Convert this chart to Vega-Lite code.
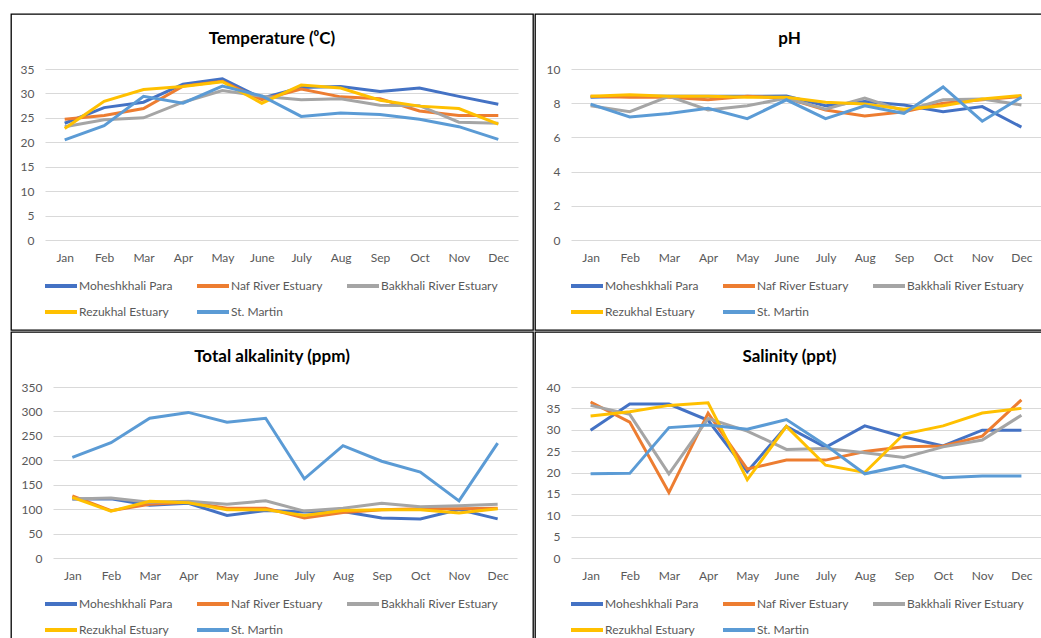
{
  "$schema": "https://vega.github.io/schema/vega-lite/v6.json",
  "padding": {"top": 13, "left": 10, "right": 0, "bottom": 0},
  "background": "#ffffff",
  "spacing": 0,
  "config": {
    "font": "Lato",
    "view": {"stroke": "#000000", "strokeWidth": 1.3},
    "axis": {"labelFont": "Lato", "labelFontSize": 12, "labelColor": "#595959", "domain": false, "ticks": false, "tickSize": 0, "gridColor": "#D9D9D9", "gridWidth": 1},
    "title": {"font": "Lato", "fontSize": 17, "fontWeight": "bold", "color": "#000000", "anchor": "middle"},
    "legend": {"orient": "none", "direction": "horizontal", "columns": 3, "symbolType": "stroke", "symbolSize": 1024, "symbolStrokeWidth": 4, "labelFont": "Lato", "labelFontSize": 12, "labelColor": "#595959", "labelOffset": 0, "columnPadding": 16, "rowPadding": -10, "gridAlign": "each"}
  },
  "resolve": {"scale": {"color": "independent", "x": "independent", "y": "independent"}, "legend": {"color": "independent"}},
  "data": {"values": [
    {"p":"T","s":"Moheshkhali Para","m":"Jan","v":23.9},{"p":"T","s":"Moheshkhali Para","m":"Feb","v":27.1},{"p":"T","s":"Moheshkhali Para","m":"Mar","v":28.2},{"p":"T","s":"Moheshkhali Para","m":"Apr","v":31.9},{"p":"T","s":"Moheshkhali Para","m":"May","v":33.0},{"p":"T","s":"Moheshkhali Para","m":"June","v":29.0},{"p":"T","s":"Moheshkhali Para","m":"July","v":31.2},{"p":"T","s":"Moheshkhali Para","m":"Aug","v":31.4},{"p":"T","s":"Moheshkhali Para","m":"Sep","v":30.4},{"p":"T","s":"Moheshkhali Para","m":"Oct","v":31.1},{"p":"T","s":"Moheshkhali Para","m":"Nov","v":29.4},{"p":"T","s":"Moheshkhali Para","m":"Dec","v":27.8},
    {"p":"T","s":"Naf River Estuary","m":"Jan","v":24.7},{"p":"T","s":"Naf River Estuary","m":"Feb","v":25.5},{"p":"T","s":"Naf River Estuary","m":"Mar","v":26.9},{"p":"T","s":"Naf River Estuary","m":"Apr","v":31.5},{"p":"T","s":"Naf River Estuary","m":"May","v":32.5},{"p":"T","s":"Naf River Estuary","m":"June","v":28.7},{"p":"T","s":"Naf River Estuary","m":"July","v":30.9},{"p":"T","s":"Naf River Estuary","m":"Aug","v":29.3},{"p":"T","s":"Naf River Estuary","m":"Sep","v":28.9},{"p":"T","s":"Naf River Estuary","m":"Oct","v":26.4},{"p":"T","s":"Naf River Estuary","m":"Nov","v":25.5},{"p":"T","s":"Naf River Estuary","m":"Dec","v":25.5},
    {"p":"T","s":"Bakkhali River Estuary","m":"Jan","v":23.2},{"p":"T","s":"Bakkhali River Estuary","m":"Feb","v":24.6},{"p":"T","s":"Bakkhali River Estuary","m":"Mar","v":25.0},{"p":"T","s":"Bakkhali River Estuary","m":"Apr","v":28.2},{"p":"T","s":"Bakkhali River Estuary","m":"May","v":30.6},{"p":"T","s":"Bakkhali River Estuary","m":"June","v":29.4},{"p":"T","s":"Bakkhali River Estuary","m":"July","v":28.7},{"p":"T","s":"Bakkhali River Estuary","m":"Aug","v":28.9},{"p":"T","s":"Bakkhali River Estuary","m":"Sep","v":27.6},{"p":"T","s":"Bakkhali River Estuary","m":"Oct","v":27.5},{"p":"T","s":"Bakkhali River Estuary","m":"Nov","v":24.1},{"p":"T","s":"Bakkhali River Estuary","m":"Dec","v":23.9},
    {"p":"T","s":"Rezukhal Estuary","m":"Jan","v":22.8},{"p":"T","s":"Rezukhal Estuary","m":"Feb","v":28.4},{"p":"T","s":"Rezukhal Estuary","m":"Mar","v":30.8},{"p":"T","s":"Rezukhal Estuary","m":"Apr","v":31.4},{"p":"T","s":"Rezukhal Estuary","m":"May","v":32.4},{"p":"T","s":"Rezukhal Estuary","m":"June","v":28.0},{"p":"T","s":"Rezukhal Estuary","m":"July","v":31.7},{"p":"T","s":"Rezukhal Estuary","m":"Aug","v":31.1},{"p":"T","s":"Rezukhal Estuary","m":"Sep","v":28.6},{"p":"T","s":"Rezukhal Estuary","m":"Oct","v":27.4},{"p":"T","s":"Rezukhal Estuary","m":"Nov","v":26.9},{"p":"T","s":"Rezukhal Estuary","m":"Dec","v":23.7},
    {"p":"T","s":"St. Martin","m":"Jan","v":20.5},{"p":"T","s":"St. Martin","m":"Feb","v":23.4},{"p":"T","s":"St. Martin","m":"Mar","v":29.4},{"p":"T","s":"St. Martin","m":"Apr","v":28.0},{"p":"T","s":"St. Martin","m":"May","v":31.5},{"p":"T","s":"St. Martin","m":"June","v":29.5},{"p":"T","s":"St. Martin","m":"July","v":25.3},{"p":"T","s":"St. Martin","m":"Aug","v":26.0},{"p":"T","s":"St. Martin","m":"Sep","v":25.7},{"p":"T","s":"St. Martin","m":"Oct","v":24.7},{"p":"T","s":"St. Martin","m":"Nov","v":23.2},{"p":"T","s":"St. Martin","m":"Dec","v":20.6},

    {"p":"pH","s":"Moheshkhali Para","m":"Jan","v":8.35},{"p":"pH","s":"Moheshkhali Para","m":"Feb","v":8.4},{"p":"pH","s":"Moheshkhali Para","m":"Mar","v":8.4},{"p":"pH","s":"Moheshkhali Para","m":"Apr","v":8.4},{"p":"pH","s":"Moheshkhali Para","m":"May","v":8.4},{"p":"pH","s":"Moheshkhali Para","m":"June","v":8.42},{"p":"pH","s":"Moheshkhali Para","m":"July","v":7.85},{"p":"pH","s":"Moheshkhali Para","m":"Aug","v":8.1},{"p":"pH","s":"Moheshkhali Para","m":"Sep","v":7.9},{"p":"pH","s":"Moheshkhali Para","m":"Oct","v":7.5},{"p":"pH","s":"Moheshkhali Para","m":"Nov","v":7.8},{"p":"pH","s":"Moheshkhali Para","m":"Dec","v":6.6},
    {"p":"pH","s":"Naf River Estuary","m":"Jan","v":8.4},{"p":"pH","s":"Naf River Estuary","m":"Feb","v":8.35},{"p":"pH","s":"Naf River Estuary","m":"Mar","v":8.35},{"p":"pH","s":"Naf River Estuary","m":"Apr","v":8.2},{"p":"pH","s":"Naf River Estuary","m":"May","v":8.4},{"p":"pH","s":"Naf River Estuary","m":"June","v":8.3},{"p":"pH","s":"Naf River Estuary","m":"July","v":7.6},{"p":"pH","s":"Naf River Estuary","m":"Aug","v":7.25},{"p":"pH","s":"Naf River Estuary","m":"Sep","v":7.5},{"p":"pH","s":"Naf River Estuary","m":"Oct","v":8.0},{"p":"pH","s":"Naf River Estuary","m":"Nov","v":8.2},{"p":"pH","s":"Naf River Estuary","m":"Dec","v":8.4},
    {"p":"pH","s":"Bakkhali River Estuary","m":"Jan","v":7.85},{"p":"pH","s":"Bakkhali River Estuary","m":"Feb","v":7.5},{"p":"pH","s":"Bakkhali River Estuary","m":"Mar","v":8.4},{"p":"pH","s":"Bakkhali River Estuary","m":"Apr","v":7.6},{"p":"pH","s":"Bakkhali River Estuary","m":"May","v":7.85},{"p":"pH","s":"Bakkhali River Estuary","m":"June","v":8.3},{"p":"pH","s":"Bakkhali River Estuary","m":"July","v":7.65},{"p":"pH","s":"Bakkhali River Estuary","m":"Aug","v":8.3},{"p":"pH","s":"Bakkhali River Estuary","m":"Sep","v":7.55},{"p":"pH","s":"Bakkhali River Estuary","m":"Oct","v":8.2},{"p":"pH","s":"Bakkhali River Estuary","m":"Nov","v":8.25},{"p":"pH","s":"Bakkhali River Estuary","m":"Dec","v":7.9},
    {"p":"pH","s":"Rezukhal Estuary","m":"Jan","v":8.4},{"p":"pH","s":"Rezukhal Estuary","m":"Feb","v":8.5},{"p":"pH","s":"Rezukhal Estuary","m":"Mar","v":8.4},{"p":"pH","s":"Rezukhal Estuary","m":"Apr","v":8.4},{"p":"pH","s":"Rezukhal Estuary","m":"May","v":8.35},{"p":"pH","s":"Rezukhal Estuary","m":"June","v":8.35},{"p":"pH","s":"Rezukhal Estuary","m":"July","v":8.05},{"p":"pH","s":"Rezukhal Estuary","m":"Aug","v":7.95},{"p":"pH","s":"Rezukhal Estuary","m":"Sep","v":7.65},{"p":"pH","s":"Rezukhal Estuary","m":"Oct","v":7.85},{"p":"pH","s":"Rezukhal Estuary","m":"Nov","v":8.25},{"p":"pH","s":"Rezukhal Estuary","m":"Dec","v":8.45},
    {"p":"pH","s":"St. Martin","m":"Jan","v":7.95},{"p":"pH","s":"St. Martin","m":"Feb","v":7.2},{"p":"pH","s":"St. Martin","m":"Mar","v":7.4},{"p":"pH","s":"St. Martin","m":"Apr","v":7.7},{"p":"pH","s":"St. Martin","m":"May","v":7.1},{"p":"pH","s":"St. Martin","m":"June","v":8.2},{"p":"pH","s":"St. Martin","m":"July","v":7.1},{"p":"pH","s":"St. Martin","m":"Aug","v":7.85},{"p":"pH","s":"St. Martin","m":"Sep","v":7.4},{"p":"pH","s":"St. Martin","m":"Oct","v":8.95},{"p":"pH","s":"St. Martin","m":"Nov","v":6.95},{"p":"pH","s":"St. Martin","m":"Dec","v":8.35},

    {"p":"TA","s":"Moheshkhali Para","m":"Jan","v":121},{"p":"TA","s":"Moheshkhali Para","m":"Feb","v":121},{"p":"TA","s":"Moheshkhali Para","m":"Mar","v":108},{"p":"TA","s":"Moheshkhali Para","m":"Apr","v":112},{"p":"TA","s":"Moheshkhali Para","m":"May","v":87},{"p":"TA","s":"Moheshkhali Para","m":"June","v":97},{"p":"TA","s":"Moheshkhali Para","m":"July","v":94},{"p":"TA","s":"Moheshkhali Para","m":"Aug","v":95},{"p":"TA","s":"Moheshkhali Para","m":"Sep","v":82},{"p":"TA","s":"Moheshkhali Para","m":"Oct","v":80},{"p":"TA","s":"Moheshkhali Para","m":"Nov","v":99},{"p":"TA","s":"Moheshkhali Para","m":"Dec","v":80},
    {"p":"TA","s":"Naf River Estuary","m":"Jan","v":127},{"p":"TA","s":"Naf River Estuary","m":"Feb","v":97},{"p":"TA","s":"Naf River Estuary","m":"Mar","v":110},{"p":"TA","s":"Naf River Estuary","m":"Apr","v":114},{"p":"TA","s":"Naf River Estuary","m":"May","v":102},{"p":"TA","s":"Naf River Estuary","m":"June","v":102},{"p":"TA","s":"Naf River Estuary","m":"July","v":82},{"p":"TA","s":"Naf River Estuary","m":"Aug","v":93},{"p":"TA","s":"Naf River Estuary","m":"Sep","v":99},{"p":"TA","s":"Naf River Estuary","m":"Oct","v":101},{"p":"TA","s":"Naf River Estuary","m":"Nov","v":101},{"p":"TA","s":"Naf River Estuary","m":"Dec","v":102},
    {"p":"TA","s":"Bakkhali River Estuary","m":"Jan","v":121},{"p":"TA","s":"Bakkhali River Estuary","m":"Feb","v":123},{"p":"TA","s":"Bakkhali River Estuary","m":"Mar","v":114},{"p":"TA","s":"Bakkhali River Estuary","m":"Apr","v":116},{"p":"TA","s":"Bakkhali River Estuary","m":"May","v":110},{"p":"TA","s":"Bakkhali River Estuary","m":"June","v":117},{"p":"TA","s":"Bakkhali River Estuary","m":"July","v":96},{"p":"TA","s":"Bakkhali River Estuary","m":"Aug","v":102},{"p":"TA","s":"Bakkhali River Estuary","m":"Sep","v":112},{"p":"TA","s":"Bakkhali River Estuary","m":"Oct","v":105},{"p":"TA","s":"Bakkhali River Estuary","m":"Nov","v":107},{"p":"TA","s":"Bakkhali River Estuary","m":"Dec","v":110},
    {"p":"TA","s":"Rezukhal Estuary","m":"Jan","v":124},{"p":"TA","s":"Rezukhal Estuary","m":"Feb","v":96},{"p":"TA","s":"Rezukhal Estuary","m":"Mar","v":116},{"p":"TA","s":"Rezukhal Estuary","m":"Apr","v":113},{"p":"TA","s":"Rezukhal Estuary","m":"May","v":99},{"p":"TA","s":"Rezukhal Estuary","m":"June","v":99},{"p":"TA","s":"Rezukhal Estuary","m":"July","v":87},{"p":"TA","s":"Rezukhal Estuary","m":"Aug","v":97},{"p":"TA","s":"Rezukhal Estuary","m":"Sep","v":99},{"p":"TA","s":"Rezukhal Estuary","m":"Oct","v":99},{"p":"TA","s":"Rezukhal Estuary","m":"Nov","v":92},{"p":"TA","s":"Rezukhal Estuary","m":"Dec","v":101},
    {"p":"TA","s":"St. Martin","m":"Jan","v":206},{"p":"TA","s":"St. Martin","m":"Feb","v":236},{"p":"TA","s":"St. Martin","m":"Mar","v":286},{"p":"TA","s":"St. Martin","m":"Apr","v":298},{"p":"TA","s":"St. Martin","m":"May","v":278},{"p":"TA","s":"St. Martin","m":"June","v":286},{"p":"TA","s":"St. Martin","m":"July","v":162},{"p":"TA","s":"St. Martin","m":"Aug","v":230},{"p":"TA","s":"St. Martin","m":"Sep","v":198},{"p":"TA","s":"St. Martin","m":"Oct","v":176},{"p":"TA","s":"St. Martin","m":"Nov","v":117},{"p":"TA","s":"St. Martin","m":"Dec","v":235},

    {"p":"S","s":"Moheshkhali Para","m":"Jan","v":29.9},{"p":"S","s":"Moheshkhali Para","m":"Feb","v":36.0},{"p":"S","s":"Moheshkhali Para","m":"Mar","v":36.0},{"p":"S","s":"Moheshkhali Para","m":"Apr","v":32.2},{"p":"S","s":"Moheshkhali Para","m":"May","v":20.2},{"p":"S","s":"Moheshkhali Para","m":"June","v":30.8},{"p":"S","s":"Moheshkhali Para","m":"July","v":25.9},{"p":"S","s":"Moheshkhali Para","m":"Aug","v":30.9},{"p":"S","s":"Moheshkhali Para","m":"Sep","v":28.3},{"p":"S","s":"Moheshkhali Para","m":"Oct","v":26.2},{"p":"S","s":"Moheshkhali Para","m":"Nov","v":29.9},{"p":"S","s":"Moheshkhali Para","m":"Dec","v":29.9},
    {"p":"S","s":"Naf River Estuary","m":"Jan","v":36.5},{"p":"S","s":"Naf River Estuary","m":"Feb","v":31.8},{"p":"S","s":"Naf River Estuary","m":"Mar","v":15.3},{"p":"S","s":"Naf River Estuary","m":"Apr","v":33.9},{"p":"S","s":"Naf River Estuary","m":"May","v":20.8},{"p":"S","s":"Naf River Estuary","m":"June","v":22.9},{"p":"S","s":"Naf River Estuary","m":"July","v":22.9},{"p":"S","s":"Naf River Estuary","m":"Aug","v":24.9},{"p":"S","s":"Naf River Estuary","m":"Sep","v":26.0},{"p":"S","s":"Naf River Estuary","m":"Oct","v":26.2},{"p":"S","s":"Naf River Estuary","m":"Nov","v":28.5},{"p":"S","s":"Naf River Estuary","m":"Dec","v":37.0},
    {"p":"S","s":"Bakkhali River Estuary","m":"Jan","v":35.7},{"p":"S","s":"Bakkhali River Estuary","m":"Feb","v":33.6},{"p":"S","s":"Bakkhali River Estuary","m":"Mar","v":19.7},{"p":"S","s":"Bakkhali River Estuary","m":"Apr","v":32.6},{"p":"S","s":"Bakkhali River Estuary","m":"May","v":29.7},{"p":"S","s":"Bakkhali River Estuary","m":"June","v":25.4},{"p":"S","s":"Bakkhali River Estuary","m":"July","v":25.6},{"p":"S","s":"Bakkhali River Estuary","m":"Aug","v":24.6},{"p":"S","s":"Bakkhali River Estuary","m":"Sep","v":23.5},{"p":"S","s":"Bakkhali River Estuary","m":"Oct","v":26.0},{"p":"S","s":"Bakkhali River Estuary","m":"Nov","v":27.6},{"p":"S","s":"Bakkhali River Estuary","m":"Dec","v":33.4},
    {"p":"S","s":"Rezukhal Estuary","m":"Jan","v":33.2},{"p":"S","s":"Rezukhal Estuary","m":"Feb","v":34.2},{"p":"S","s":"Rezukhal Estuary","m":"Mar","v":35.7},{"p":"S","s":"Rezukhal Estuary","m":"Apr","v":36.3},{"p":"S","s":"Rezukhal Estuary","m":"May","v":18.3},{"p":"S","s":"Rezukhal Estuary","m":"June","v":30.8},{"p":"S","s":"Rezukhal Estuary","m":"July","v":21.7},{"p":"S","s":"Rezukhal Estuary","m":"Aug","v":20.0},{"p":"S","s":"Rezukhal Estuary","m":"Sep","v":29.0},{"p":"S","s":"Rezukhal Estuary","m":"Oct","v":30.9},{"p":"S","s":"Rezukhal Estuary","m":"Nov","v":33.9},{"p":"S","s":"Rezukhal Estuary","m":"Dec","v":35.0},
    {"p":"S","s":"St. Martin","m":"Jan","v":19.7},{"p":"S","s":"St. Martin","m":"Feb","v":19.8},{"p":"S","s":"St. Martin","m":"Mar","v":30.5},{"p":"S","s":"St. Martin","m":"Apr","v":31.1},{"p":"S","s":"St. Martin","m":"May","v":30.1},{"p":"S","s":"St. Martin","m":"June","v":32.4},{"p":"S","s":"St. Martin","m":"July","v":26.4},{"p":"S","s":"St. Martin","m":"Aug","v":19.7},{"p":"S","s":"St. Martin","m":"Sep","v":21.6},{"p":"S","s":"St. Martin","m":"Oct","v":18.8},{"p":"S","s":"St. Martin","m":"Nov","v":19.2},{"p":"S","s":"St. Martin","m":"Dec","v":19.2}
  ]},
  "vconcat": [
    {
      "spacing": 0,
      "resolve": {"scale": {"color": "independent", "x": "independent", "y": "independent"}, "legend": {"color": "independent"}},
      "hconcat": [
        {
          "width": 522, "height": 316,
          "title": {"text": "Temperature (⁰C)", "offset": -34},
          "transform": [{"filter": "datum.p === 'T'"}],
          "mark": {"type": "line", "strokeWidth": 3},
          "encoding": {
            "x": {"field": "m", "type": "ordinal", "title": null, "sort": ["Jan","Feb","Mar","Apr","May","June","July","Aug","Sep","Oct","Nov","Dec"],
                  "scale": {"type": "point", "range": [34, 507], "padding": 0.5},
                  "axis": {"offset": -90, "labelAngle": 0, "grid": false, "labelPadding": 12}},
            "y": {"field": "v", "type": "quantitative", "title": null,
                  "scale": {"domain": [0, 35], "range": [226, 55], "nice": false},
                  "axis": {"values": [0,5,10,15,20,25,30,35], "offset": -34, "labelPadding": 11, "grid": true}},
            "color": {"field": "s", "type": "nominal", "sort": ["Moheshkhali Para","Naf River Estuary","Bakkhali River Estuary","Rezukhal Estuary","St. Martin"],
                      "scale": {"domain": ["Moheshkhali Para","Naf River Estuary","Bakkhali River Estuary","Rezukhal Estuary","St. Martin"], "range": ["#4472C4","#ED7D31","#A5A5A5","#FFC000","#5B9BD5"]},
                      "legend": {"title": null, "legendX": 32, "legendY": 254}}
          }
        },
        {
          "width": 509, "height": 316,
          "title": {"text": "pH", "offset": -34},
          "transform": [{"filter": "datum.p === 'pH'"}],
          "mark": {"type": "line", "strokeWidth": 3},
          "encoding": {
            "x": {"field": "m", "type": "ordinal", "title": null, "sort": ["Jan","Feb","Mar","Apr","May","June","July","Aug","Sep","Oct","Nov","Dec"],
                  "scale": {"type": "point", "range": [36, 506], "padding": 0.5},
                  "axis": {"offset": -90, "labelAngle": 0, "grid": false, "labelPadding": 12}},
            "y": {"field": "v", "type": "quantitative", "title": null,
                  "scale": {"domain": [0, 10], "range": [226, 55], "nice": false},
                  "axis": {"values": [0,2,4,6,8,10], "offset": -36, "labelPadding": 11, "grid": true}},
            "color": {"field": "s", "type": "nominal", "sort": ["Moheshkhali Para","Naf River Estuary","Bakkhali River Estuary","Rezukhal Estuary","St. Martin"],
                      "scale": {"domain": ["Moheshkhali Para","Naf River Estuary","Bakkhali River Estuary","Rezukhal Estuary","St. Martin"], "range": ["#4472C4","#ED7D31","#A5A5A5","#FFC000","#5B9BD5"]},
                      "legend": {"title": null, "legendX": 34, "legendY": 254}}
          }
        }
      ]
    },
    {
      "spacing": 0,
      "resolve": {"scale": {"color": "independent", "x": "independent", "y": "independent"}, "legend": {"color": "independent"}},
      "hconcat": [
        {
          "width": 522, "height": 309,
          "title": {"text": "Total alkalinity (ppm)", "offset": -34},
          "transform": [{"filter": "datum.p === 'TA'"}],
          "mark": {"type": "line", "strokeWidth": 3},
          "encoding": {
            "x": {"field": "m", "type": "ordinal", "title": null, "sort": ["Jan","Feb","Mar","Apr","May","June","July","Aug","Sep","Oct","Nov","Dec"],
                  "scale": {"type": "point", "range": [42, 506], "padding": 0.5},
                  "axis": {"offset": -83, "labelAngle": 0, "grid": false, "labelPadding": 12}},
            "y": {"field": "v", "type": "quantitative", "title": null,
                  "scale": {"domain": [0, 350], "range": [226, 55], "nice": false},
                  "axis": {"values": [0,50,100,150,200,250,300,350], "offset": -42, "labelPadding": 11, "grid": true}},
            "color": {"field": "s", "type": "nominal", "sort": ["Moheshkhali Para","Naf River Estuary","Bakkhali River Estuary","Rezukhal Estuary","St. Martin"],
                      "scale": {"domain": ["Moheshkhali Para","Naf River Estuary","Bakkhali River Estuary","Rezukhal Estuary","St. Martin"], "range": ["#4472C4","#ED7D31","#A5A5A5","#FFC000","#5B9BD5"]},
                      "legend": {"title": null, "legendX": 32, "legendY": 254}}
          }
        },
        {
          "width": 509, "height": 309,
          "title": {"text": "Salinity (ppt)", "offset": -34},
          "transform": [{"filter": "datum.p === 'S'"}],
          "mark": {"type": "line", "strokeWidth": 3},
          "encoding": {
            "x": {"field": "m", "type": "ordinal", "title": null, "sort": ["Jan","Feb","Mar","Apr","May","June","July","Aug","Sep","Oct","Nov","Dec"],
                  "scale": {"type": "point", "range": [36, 506], "padding": 0.5},
                  "axis": {"offset": -83, "labelAngle": 0, "grid": false, "labelPadding": 12}},
            "y": {"field": "v", "type": "quantitative", "title": null,
                  "scale": {"domain": [0, 40], "range": [226, 55], "nice": false},
                  "axis": {"values": [0,5,10,15,20,25,30,35,40], "offset": -36, "labelPadding": 11, "grid": true}},
            "color": {"field": "s", "type": "nominal", "sort": ["Moheshkhali Para","Naf River Estuary","Bakkhali River Estuary","Rezukhal Estuary","St. Martin"],
                      "scale": {"domain": ["Moheshkhali Para","Naf River Estuary","Bakkhali River Estuary","Rezukhal Estuary","St. Martin"], "range": ["#4472C4","#ED7D31","#A5A5A5","#FFC000","#5B9BD5"]},
                      "legend": {"title": null, "legendX": 34, "legendY": 254}}
          }
        }
      ]
    }
  ]
}
